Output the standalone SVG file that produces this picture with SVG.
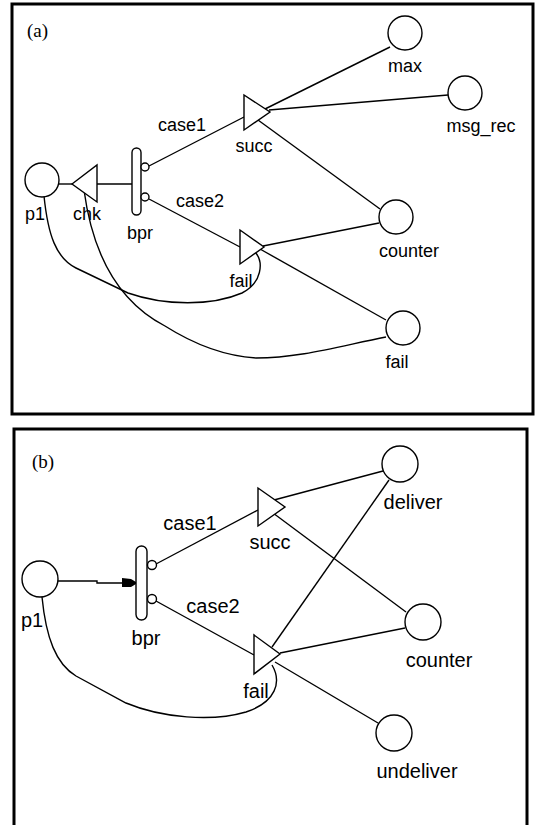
<svg xmlns="http://www.w3.org/2000/svg" width="536" height="825" viewBox="0 0 536 825">
<style>
.frame{fill:none;stroke:#000;stroke-width:3}
.pl{fill:#fff;stroke:#000;stroke-width:1.4}
.tr{fill:#fff;stroke:#000;stroke-width:1.4}
.bar{fill:#fff;stroke:#000;stroke-width:1.4}
.cn{fill:none;stroke:#000;stroke-width:1.4}
.la{font-family:"Liberation Sans",Arial,sans-serif;font-size:18px;fill:#000;text-anchor:middle}
.lb{font-family:"Liberation Sans",Arial,sans-serif;font-size:20px;fill:#000;text-anchor:middle}
.cap{font-family:"Liberation Serif","Times New Roman",serif;font-size:19px;fill:#000}
</style>
<rect width="536" height="825" fill="#fff"/>
<rect class="frame" x="12" y="4" width="521" height="410"/>
<rect class="frame" x="14" y="429" width="513" height="398"/>
<text class="cap" x="27" y="37">(a)</text>
<text class="cap" x="32" y="468">(b)</text>

<!-- connectors panel a -->
<g id="connectors-a">
<line class="cn" x1="59" y1="184" x2="72" y2="184"/>
<line class="cn" x1="97" y1="184" x2="132" y2="184"/>
<line class="cn" x1="149" y1="166" x2="244" y2="117"/>
<line class="cn" x1="149" y1="199" x2="240" y2="247"/>
<line class="cn" x1="265" y1="109" x2="390" y2="47"/>
<line class="cn" x1="269" y1="110" x2="448" y2="95"/>
<line class="cn" x1="258" y1="120" x2="380" y2="209"/>
<line class="cn" x1="263" y1="246" x2="379" y2="223"/>
<line class="cn" x1="260" y1="249" x2="386" y2="320"/>
<path class="cn" d="M84,190 C92,250 115,300 165,326 C195,345 225,356 256,358 C300,358 340,346 386,337"/>
<path class="cn" d="M44,196 C48,235 56,258 76,268 L128,293 C165,306 212,306 242,293 C262,283 264,262 255,252"/>
</g>

<!-- connectors panel b -->
<g id="connectors-b">
<polyline class="cn" points="57,581 97,581 97,583 123,583"/>
<polygon points="122,578 131,579 136,582 136,584 131,587 122,587" fill="#000"/>
<line class="cn" x1="156" y1="564" x2="258" y2="510"/>
<line class="cn" x1="156" y1="601" x2="254" y2="655"/>
<line class="cn" x1="274" y1="500" x2="383" y2="471"/>
<line class="cn" x1="273" y1="513" x2="406" y2="612"/>
<line class="cn" x1="272" y1="647" x2="389" y2="480"/>
<line class="cn" x1="280" y1="653" x2="405" y2="628"/>
<line class="cn" x1="275" y1="662" x2="378" y2="723"/>
<path class="cn" d="M42,597 C46,638 56,664 76,676 L126,703 C162,718 212,722 246,712 C276,702 282,682 272,665"/>
</g>

<!-- panel a nodes -->
<g id="a-max"><circle class="pl" cx="405" cy="33" r="17"/><text class="la" x="405" y="72">max</text></g>
<g id="a-msg_rec"><circle class="pl" cx="465" cy="93" r="17"/><text class="la" x="481" y="132">msg_rec</text></g>
<g id="a-counter"><circle class="pl" cx="396" cy="217" r="17"/><text class="la" x="409" y="257">counter</text></g>
<g id="a-fail-place"><circle class="pl" cx="403" cy="328" r="17"/><text class="la" x="397" y="368">fail</text></g>
<g id="a-p1"><circle class="pl" cx="42" cy="180" r="17"/><text class="la" x="35" y="220">p1</text></g>
<g id="a-chk"><polygon class="tr" points="72,184 97,165 97,202"/><text class="la" x="87" y="220">chk</text></g>
<g id="a-bpr"><rect class="bar" x="132" y="148" width="9" height="67" rx="4.5"/><circle class="pl" cx="145" cy="167" r="4"/><circle class="pl" cx="145" cy="197" r="4"/><text class="la" x="140" y="239">bpr</text></g>
<g id="a-succ"><polygon class="tr" points="244,95 244,130 270,112"/><text class="la" x="254" y="152">succ</text></g>
<g id="a-fail"><polygon class="tr" points="240,230 240,264 264,247"/><text class="la" x="241" y="287">fail</text></g>
<g id="a-case1"><text class="la" x="182" y="131">case1</text></g>
<g id="a-case2"><text class="la" x="200" y="207">case2</text></g>

<!-- panel b nodes -->
<g id="b-p1"><circle class="pl" cx="40" cy="579" r="18"/><text class="lb" x="32" y="627">p1</text></g>
<g id="b-bpr"><rect class="bar" x="136" y="546" width="11" height="74" rx="5.5"/><circle class="pl" cx="152" cy="565" r="4.5"/><circle class="pl" cx="152" cy="599" r="4.5"/><text class="lb" x="146" y="645">bpr</text></g>
<g id="b-succ"><polygon class="tr" points="258,488 258,526 285,507"/><text class="lb" x="270" y="549">succ</text></g>
<g id="b-fail"><polygon class="tr" points="254,635 254,674 280,654"/><text class="lb" x="256" y="698">fail</text></g>
<g id="b-deliver"><circle class="pl" cx="400" cy="464" r="18"/><text class="lb" x="413" y="509">deliver</text></g>
<g id="b-counter"><circle class="pl" cx="423" cy="622" r="18"/><text class="lb" x="439" y="667">counter</text></g>
<g id="b-undeliver"><circle class="pl" cx="394" cy="733" r="18"/><text class="lb" x="417" y="778">undeliver</text></g>
<g id="b-case1"><text class="lb" x="190" y="530">case1</text></g>
<g id="b-case2"><text class="lb" x="213" y="613">case2</text></g>
</svg>
